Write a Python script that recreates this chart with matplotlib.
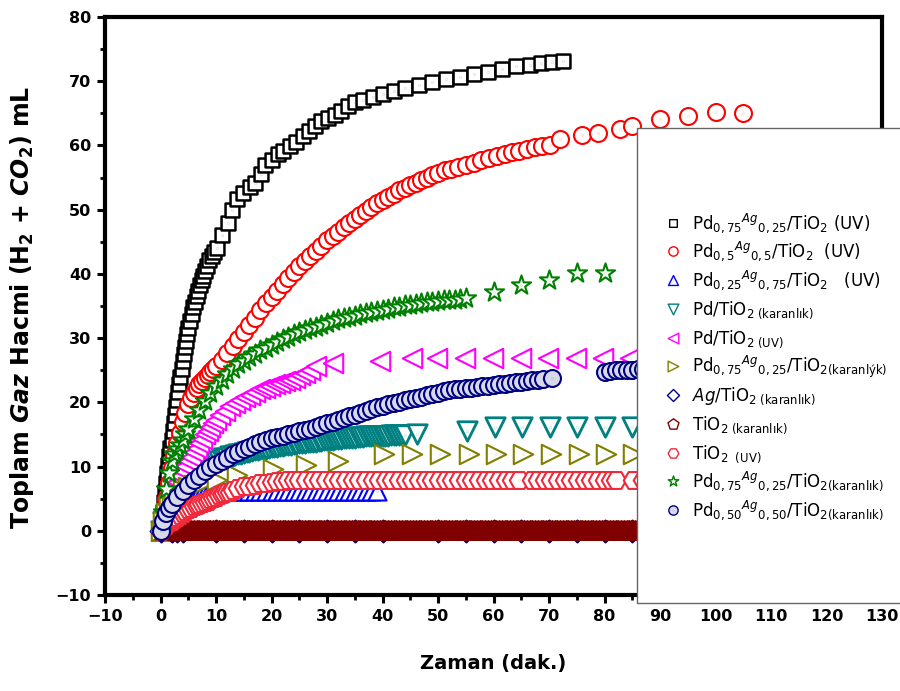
import matplotlib.pyplot as plt
from matplotlib.lines import Line2D
from matplotlib.markers import MarkerStyle
from matplotlib.patches import Rectangle
from matplotlib.path import Path
from matplotlib.ticker import MultipleLocator

plt.rcParams["mathtext.fontset"] = "dejavusans"

# --- data (time in min, volume in mL) ---
sq_x = [0, 0.2, 0.4, 0.6, 0.8, 1.0, 1.2, 1.4, 1.6, 1.8, 2.0, 2.2, 2.4, 2.6, 2.8, 3.0, 3.2, 3.4, 3.6, 3.8,
        4.0, 4.2, 4.4, 4.6, 4.8, 5.0, 5.3, 5.6, 5.9, 6.2, 6.5, 6.8, 7.1, 7.4, 7.7, 8.0, 8.4, 8.8, 9.2, 9.6,
        10.1, 11.0, 12.1, 12.8, 13.8, 14.9, 16.1, 17.0, 18.1, 18.8, 20.0, 21.2, 22.1, 23.3, 24.5, 25.7,
        26.8, 27.8, 29.0, 30.2, 31.4, 32.6, 33.8, 35.0, 36.5, 38.3, 40.0, 42.0, 44.0, 46.5, 49.0, 51.5,
        54.0, 56.5, 59.0, 61.5, 64.0, 66.5, 68.5, 70.5, 72.5]
sq_y = [0, 1.5, 3, 4.5, 6, 7.5, 9, 10.3, 11.6, 12.9, 14.2, 15.5, 16.8, 18.0, 19.2, 20.4, 21.6, 22.8, 24.0, 25.2,
        26.4, 27.5, 28.6, 29.6, 30.6, 31.5, 32.7, 33.8, 34.8, 35.7, 36.6, 37.4, 38.2, 39.0, 39.7, 40.4, 41.3, 42.1, 42.8, 43.4,
        44.0, 46.1, 48.0, 50.0, 51.6, 52.6, 53.6, 54.2, 55.5, 57.0, 57.8, 58.6, 59.1, 59.9, 60.6, 61.4,
        62.2, 63.0, 63.8, 64.3, 64.8, 65.3, 66.1, 66.7, 67.1, 67.6, 68.0, 68.4, 68.9, 69.4, 69.9, 70.3,
        70.7, 71.1, 71.5, 71.9, 72.3, 72.6, 72.9, 73.0, 73.1]

rc_x = [0, 0.5, 1, 1.5, 2, 2.5, 3, 3.5, 4, 4.5, 5, 5.5, 6, 6.5, 7, 7.5, 8, 8.5, 9, 9.5,
        10, 11, 12, 13, 14, 15, 16, 17, 18, 19, 20, 21, 22, 23, 24, 25, 26, 27, 28, 29,
        30, 31, 32, 33, 34, 35, 36, 37, 38, 39, 40, 41, 42, 43, 44, 45, 46, 47, 48, 49,
        50, 51.2, 52.4, 53.6, 55, 56.4, 57.8, 59.2, 60.6, 62, 63.3, 64.6, 66, 67.4, 68.8, 70.2,
        72, 75.9, 78.9, 82.8, 84.9, 90, 95, 100, 105]
rc_y = [0, 2.5, 5, 7.5, 9.8, 11.8, 13.6, 15.3, 16.9, 18.4, 19.7, 20.7, 21.5, 22.2, 22.8, 23.3, 23.8, 24.3, 24.8, 25.2,
        25.6, 26.6, 27.7, 28.8, 29.9, 31.0, 32.1, 33.2, 34.3, 35.4, 36.4, 37.4, 38.4, 39.4, 40.3, 41.2, 42.0, 42.8, 43.6, 44.4,
        45.2, 45.9, 46.6, 47.3, 48.0, 48.6, 49.2, 49.8, 50.4, 51.0, 51.5, 52.0, 52.5, 53.0, 53.4, 53.8, 54.2, 54.6, 55.0, 55.4,
        55.7, 56.1, 56.4, 56.7, 57.0, 57.3, 57.7, 58.1, 58.4, 58.7, 59.0, 59.2, 59.4, 59.7, 59.9, 60.1,
        61.0, 61.7, 62.0, 62.6, 63.1, 64.1, 64.6, 65.2, 65.1]

bt_x = [0, 0.5, 1, 1.5, 2, 2.5, 3, 3.5, 4, 4.5, 5, 5.5, 6, 6.5, 7, 7.5, 8, 8.5, 9, 9.5,
        10, 11, 12, 13, 14, 15, 16, 17, 18, 19, 20, 21, 22, 23, 24, 25, 26, 27, 28, 29,
        30, 31, 32, 33, 34, 35, 36, 37, 38, 39]
bt_y = [0, 0.9, 1.8, 2.6, 3.3, 3.9, 4.4, 4.8, 5.1, 5.4, 5.6, 5.8, 5.9, 6.0, 6.0, 6.1, 6.1, 6.1, 6.2, 6.2,
        6.2, 6.2, 6.2, 6.2, 6.2, 6.2, 6.2, 6.2, 6.2, 6.2, 6.2, 6.2, 6.2, 6.2, 6.2, 6.2, 6.2, 6.2, 6.2, 6.2,
        6.2, 6.2, 6.2, 6.2, 6.2, 6.2, 6.2, 6.2, 6.2, 6.2]

tl_x = [0, 0.5, 1, 1.5, 2, 2.5, 3, 3.5, 4, 4.5, 5, 5.5, 6, 6.5, 7, 7.5, 8, 8.5, 9, 9.5,
        10, 10.5, 11, 11.5, 12, 12.5, 13, 13.5, 14, 14.5, 15, 15.5, 16, 16.5, 17, 17.5, 18, 18.5, 19, 19.5,
        20, 20.5, 21, 21.5, 22, 22.5, 23, 23.5, 24, 24.5, 25, 25.5, 26, 26.5, 27, 27.5, 28, 28.5, 29, 29.5,
        30, 30.5, 31, 31.5, 32, 32.5, 33, 33.5, 34, 34.5, 35, 35.5, 36, 36.5, 37, 37.5, 38, 38.5, 39, 39.5,
        40, 40.5, 41, 41.5, 42, 42.5, 43, 43.5, 44,
        46.2, 55.3, 60.2, 65.1, 70.1, 75.0, 80.0, 84.9, 90, 95, 100, 105]
tl_y = [0, 1.3, 2.5, 3.5, 4.4, 5.2, 5.9, 6.5, 7.0, 7.5, 7.9, 8.3, 8.7, 9.0, 9.3, 9.6, 9.9, 10.1, 10.3, 10.5,
        10.7, 10.9, 11.1, 11.3, 11.4, 11.6, 11.7, 11.8, 11.9, 12.0, 12.1, 12.2, 12.3, 12.4, 12.5, 12.6, 12.7, 12.7, 12.8, 12.9,
        13.0, 13.0, 13.1, 13.2, 13.2, 13.3, 13.4, 13.4, 13.5, 13.5, 13.6, 13.7, 13.7, 13.8, 13.8, 13.9, 13.9, 14.0, 14.0, 14.1,
        14.1, 14.2, 14.2, 14.3, 14.3, 14.3, 14.4, 14.4, 14.5, 14.5, 14.5, 14.6, 14.6, 14.6, 14.7, 14.7, 14.7, 14.7, 14.8, 14.8,
        14.8, 14.8, 14.8, 14.9, 14.9, 14.9, 14.9, 14.9, 14.9,
        15.0, 15.6, 16.1, 16.1, 16.1, 16.1, 16.1, 16.1, 16.1, 16.1, 16.1, 16.1]

mg_x = [0, 0.5, 1, 1.5, 2, 2.5, 3, 3.5, 4, 4.5, 5, 5.5, 6, 6.5, 7, 7.5, 8, 8.5, 9, 9.5,
        10, 10.8, 11.6, 12.5, 13.4, 14.3, 15.2, 16.1, 17.0, 17.9, 18.8, 19.7, 20.6, 21.5, 22.4, 23.3, 24.2, 25.1, 26.0, 27.0,
        28.1, 31.1, 39.5, 45.3, 49.8, 54.9, 59.9, 64.9, 69.9, 74.8, 79.8, 84.6, 90, 95, 100, 105]
mg_y = [0, 1.5, 3.0, 4.3, 5.5, 6.6, 7.6, 8.5, 9.3, 10.1, 10.8, 11.5, 12.2, 12.9, 13.6, 14.3, 15.0, 15.6, 16.2, 16.8,
        17.3, 18.0, 18.7, 19.4, 19.9, 20.4, 20.8, 21.2, 21.6, 22.0, 22.3, 22.6, 22.8, 23.0, 23.3, 23.5, 23.8, 24.2, 24.6, 25.0,
        25.6, 26.1, 26.5, 26.9, 26.9, 26.9, 26.9, 26.9, 26.9, 26.9, 26.9, 26.9, 26.9, 26.9, 26.9, 26.9]

ol_x = [0, 0.5, 1, 1.5, 2, 2.5, 3, 4, 5, 6, 7, 8, 10.1, 13.7, 20.3, 26.2, 32.0,
        40.3, 45.3, 50.4, 55.5, 60.5, 65.4, 70.4, 75.4, 80.3, 85.1, 90, 95, 100, 105]
ol_y = [0, 1.5, 2.8, 3.8, 4.6, 5.2, 5.7, 6.3, 6.8, 7.1, 7.4, 7.6, 7.9, 8.7, 9.6, 10.2, 10.8,
        12.0, 12.0, 12.0, 12.0, 12.0, 12.0, 12.0, 12.0, 12.0, 12.0, 12.0, 12.0, 12.0, 12.0]

dm_x = [0, 2, 3, 4, 10, 15, 20, 25, 30, 35, 40, 50, 55, 60, 65, 70, 75, 80, 85, 90, 95, 100]
dm_y = [0, 0, 0, 0, 0, 0, 0, 0, 0, 0, 0, 0, 0, 0, 0, 0, 0, 0, 0, 0, 0, 0]

pt_x = [1.5, 2, 2.5, 3, 3.5, 4, 4.5, 5, 5.5, 6, 6.5, 7, 7.5, 8, 8.5, 9, 9.5, 10, 10.5, 11, 11.5, 12, 12.5, 13,
        13.5, 14, 14.5, 15, 15.5, 16, 16.5, 17, 17.5, 18, 18.5, 19, 19.5, 20, 20.5, 21, 21.5, 22, 22.5, 23,
        23.5, 24, 24.5, 25, 25.5, 26, 26.5, 27, 27.5, 28, 28.5, 29, 29.5, 30, 30.5, 31, 31.5, 32, 32.5, 33,
        33.5, 34, 34.5, 35, 35.5, 36, 36.5, 37, 37.5, 38, 38.5, 39, 39.5, 40, 40.5, 41, 41.5, 42, 42.5, 43,
        43.5, 44, 44.5, 45, 45.5, 46, 46.5, 47, 47.5, 48, 48.5, 49, 49.5, 50, 50.5, 51, 51.5, 52, 52.5, 53,
        53.5, 54, 54.5, 55, 55.5, 56, 56.5, 57, 57.5, 58, 58.5, 59, 59.5, 60, 60.5, 61, 61.5, 62, 62.5, 63,
        63.5, 64, 64.5, 65, 65.5, 66, 66.5, 67, 67.5, 68, 68.5, 69, 69.5, 70, 70.5, 71, 71.5, 72, 72.5, 73,
        73.5, 74, 74.5, 75, 75.5, 76, 76.5, 77, 77.5, 78, 78.5, 79, 79.5, 80, 80.5, 81, 81.5, 82, 82.5, 83,
        83.5, 84, 84.5, 85, 85.5, 86, 86.5, 87, 87.5, 88, 88.5, 89, 89.5, 90]
pt_y = [0, 0, 0, 0, 0, 0, 0, 0, 0, 0, 0, 0, 0, 0, 0, 0, 0, 0, 0, 0, 0, 0, 0, 0,
        0, 0, 0, 0, 0, 0, 0, 0, 0, 0, 0, 0, 0, 0, 0, 0, 0, 0, 0, 0,
        0, 0, 0, 0, 0, 0, 0, 0, 0, 0, 0, 0, 0, 0, 0, 0, 0, 0, 0, 0,
        0, 0, 0, 0, 0, 0, 0, 0, 0, 0, 0, 0, 0, 0, 0, 0, 0, 0, 0, 0,
        0, 0, 0, 0, 0, 0, 0, 0, 0, 0, 0, 0, 0, 0, 0, 0, 0, 0, 0, 0,
        0, 0, 0, 0, 0, 0, 0, 0, 0, 0, 0, 0, 0, 0, 0, 0, 0, 0, 0, 0,
        0, 0, 0, 0, 0, 0, 0, 0, 0, 0, 0, 0, 0, 0, 0, 0, 0, 0, 0, 0,
        0, 0, 0, 0, 0, 0, 0, 0, 0, 0, 0, 0, 0, 0, 0, 0, 0, 0, 0, 0,
        0, 0, 0, 0, 0, 0, 0, 0, 0, 0, 0, 0, 0, 0]

hx_x = [0, 0.5, 1, 1.5, 2, 2.5, 3, 3.5, 4, 4.5, 5, 5.5, 6, 6.5, 7, 7.5, 8, 8.5, 9, 9.5,
        10, 10.5, 11, 11.5, 12, 12.5, 13, 14, 15, 16, 17, 18, 19, 20, 21, 22, 23, 24, 25,
        26.2, 27.4, 28.6, 29.8, 31.0, 32.2, 33.4, 34.6, 35.8, 37.0, 38.2, 39.4, 40.6, 41.8, 43.0, 44.2,
        45.4, 46.6, 47.8, 49.0, 50.2, 51.4, 52.6, 53.8, 55.0, 56.2, 57.4, 58.6, 59.8, 61.0, 62.2, 63.4,
        64.6, 66.9, 68.0, 69.2, 70.4, 71.6, 72.8, 74.0, 75.2, 76.4, 77.6, 78.8, 80.0, 81.2, 82.0, 85.2, 87.0]
hx_y = [0, 0.5, 0.9, 1.3, 1.6, 1.9, 2.2, 2.5, 2.8, 3.1, 3.4, 3.6, 3.8, 4.0, 4.2, 4.4, 4.5, 4.7, 4.9, 5.1,
        5.3, 5.5, 5.7, 5.9, 6.0, 6.1, 6.3, 6.6, 6.9, 7.0, 7.2, 7.4, 7.5, 7.6, 7.7, 7.8, 7.9, 7.9, 7.9,
        7.9, 7.9, 7.9, 7.9, 7.9, 7.9, 7.9, 7.9, 7.9, 7.9, 7.9, 7.9, 7.9, 7.9, 7.9, 7.9,
        7.9, 7.9, 7.9, 7.9, 7.9, 7.9, 7.9, 7.9, 7.9, 7.9, 7.9, 7.9, 7.9, 7.9, 7.9, 7.9,
        7.9, 7.9, 7.9, 7.9, 7.9, 7.9, 7.9, 7.9, 7.9, 7.9, 7.9, 7.9, 7.9, 7.9, 7.9, 7.9, 7.9]

gs_x = [0, 0.5, 1, 1.5, 2, 2.5, 3, 3.5, 4, 4.5, 5,
        6, 7, 8, 9, 10, 11, 12, 13, 14, 15, 16, 17, 18, 19, 20, 21, 22, 23, 24, 25,
        26, 27, 28, 29, 30, 31, 32, 33, 34, 35, 36, 37, 38, 39, 40, 41, 42, 43, 44, 45,
        46, 47, 48, 49, 50, 51, 52, 53, 54, 55, 60, 65, 70, 75, 80]
gs_y = [0, 3.0, 6.5, 9.0, 10.8, 12.0, 12.8, 13.4, 14.2, 15.0, 15.8,
        17.4, 18.8, 20.2, 21.4, 22.5, 23.5, 24.4, 25.2, 25.9, 26.5, 27.1, 27.6, 28.1, 28.5, 29.0, 29.4, 29.8, 30.2, 30.6, 30.9,
        31.2, 31.5, 31.8, 32.1, 32.4, 32.6, 32.9, 33.1, 33.3, 33.5, 33.7, 33.9, 34.1, 34.2, 34.4, 34.6, 34.8, 34.9, 35.1, 35.2,
        35.3, 35.5, 35.6, 35.7, 35.8, 35.9, 36.0, 36.0, 36.1, 36.2, 37.2, 38.2, 39.1, 40.2, 40.2]

nc_x = [0, 0.5, 1, 1.5, 2,
        3, 4, 5, 6, 7, 8, 9, 10, 11, 12, 13, 14, 15, 16, 17, 18, 19, 20, 21, 22,
        23, 24, 25, 26, 27, 28, 29, 30, 31, 32, 33, 34, 35, 36, 37, 38, 39, 40, 41, 42,
        43, 44, 45, 46, 47, 48, 49, 50, 51, 52, 53, 54, 55, 56, 57, 58, 59, 60, 61, 62,
        63, 64, 65, 66, 67, 68, 69, 70.5,
        80, 81, 82, 83, 84, 85, 86, 87, 88]
nc_y = [0, 1.5, 2.8, 3.6, 4.2,
        5.2, 6.2, 7.1, 7.9, 8.6, 9.3, 9.9, 10.4, 10.9, 11.4, 11.9, 12.3, 12.7, 13.1, 13.5, 13.8, 14.1, 14.4, 14.6, 14.8,
        15.0, 15.3, 15.5, 15.7, 15.9, 16.2, 16.5, 16.8, 17.0, 17.3, 17.6, 17.8, 18.1, 18.4, 18.7, 19.0, 19.3, 19.5, 19.7, 19.9,
        20.1, 20.3, 20.5, 20.7, 20.9, 21.1, 21.3, 21.5, 21.7, 21.9, 22.0, 22.1, 22.2, 22.3, 22.4, 22.5, 22.6, 22.7, 22.8, 22.9,
        23.0, 23.1, 23.2, 23.3, 23.4, 23.5, 23.6, 23.8,
        24.8, 24.9, 25.0, 25.0, 25.1, 25.1, 25.2, 25.2, 25.3]

labels = [
    r"$\mathrm{Pd}_{0,75}{}^{Ag}{}_{0,25}/\mathrm{TiO}_{2}$ (UV)",
    r"$\mathrm{Pd}_{0,5}{}^{Ag}{}_{0,5}/\mathrm{TiO}_{2}$  (UV)",
    r"$\mathrm{Pd}_{0,25}{}^{Ag}{}_{0,75}/\mathrm{TiO}_{2}$   (UV)",
    r"Pd/TiO$_{2\ \mathrm{(karanlık)}}$",
    r"Pd/TiO$_{2\ \mathrm{(UV)}}$",
    r"$\mathrm{Pd}_{0,75}{}^{Ag}{}_{0,25}/\mathrm{TiO}_{2\mathrm{(karanlýk)}}$",
    r"$Ag/\mathrm{TiO}_{2\ \mathrm{(karanlık)}}$",
    r"TiO$_{2\ \mathrm{(karanlık)}}$",
    r"TiO$_{2\ \ \mathrm{(UV)}}$",
    r"$\mathrm{Pd}_{0,75}{}^{Ag}{}_{0,25}/\mathrm{TiO}_{2\mathrm{(karanlık)}}$",
    r"$\mathrm{Pd}_{0,50}{}^{Ag}{}_{0,50}/\mathrm{TiO}_{2\mathrm{(karanlık)}}$",
]


def dotted(m):
    # Origin-style symbol: outline plus a tiny dot at the data point
    ms = MarkerStyle(m)
    outline = ms.get_path().transformed(ms.get_transform())
    return Path.make_compound_path(outline, Path.circle((0, 0), 0.003))


# x, y, marker, edge colour, face colour, size (pt), edge width
series = [
    (sq_x, sq_y, "s", "black", "white", 10, 1.8),
    (rc_x, rc_y, "o", "#ff0000", "white", 12.2, 1.5),
    (bt_x, bt_y, "^", "#0000ff", "white", 13, 1.5),
    (tl_x, tl_y, "v", "#008080", "white", 14, 2.0),
    (mg_x, mg_y, "<", "#ff00ff", "white", 14, 1.5),
    (ol_x, ol_y, ">", "#808000", "white", 14, 1.5),
    (dm_x, dm_y, "D", "#000080", "white", 15.8, 1.5),
    (pt_x, pt_y, "p", "#800000", "#800000", 15, 1.5),
    (hx_x, hx_y, "H", "#f0283a", "white", 14, 1.5),
    (gs_x, gs_y, "*", "#008000", "white", 14.5, 1.5),
    (nc_x, nc_y, "o", "#000080", "#d6dae8", 12.2, 1.5),
]

fig = plt.figure(figsize=(9, 6.91), dpi=100)
ax = fig.add_axes([105 / 900, 1 - 595 / 691, 777 / 900, 578 / 691])

for x, y, m, ec, fc, size, lw in series:
    ax.plot(x, y, ls="none", marker=dotted(m), ms=size, mec=ec, mfc=fc, mew=lw)

ax.set_xlim(-10, 130)
ax.set_ylim(-10, 80)
ax.xaxis.set_major_locator(MultipleLocator(10))
ax.xaxis.set_minor_locator(MultipleLocator(5))
ax.yaxis.set_major_locator(MultipleLocator(10))
ax.yaxis.set_minor_locator(MultipleLocator(5))
for s in ax.spines.values():
    s.set_linewidth(3)
ax.tick_params(which="major", direction="out", length=6, width=2.2, labelsize=11.5, pad=4,
               top=False, right=False)
ax.tick_params(which="minor", direction="out", length=3.5, width=2, top=False, right=False)
for lab in ax.get_xticklabels() + ax.get_yticklabels():
    lab.set_fontweight("bold")

fig.text(22 / 900, 1 - 307 / 691,
         r"Toplam $\mathbfit{Gaz}$ Hacmi ($\mathbf{H}_\mathbf{2}$ + $\mathbfit{CO}_\mathbf{2}$) mL",
         rotation=90, ha="center", va="center", fontsize=17, fontweight="bold")
fig.text(493 / 900, 1 - 663 / 691, "Zaman (dak.)", ha="center", va="center",
         fontsize=14, fontweight="bold")

# legend panel sits over the plot, running off the right edge of the image
fig.add_artist(Rectangle((637 / 900, 1 - 603 / 691), 0.3, 475 / 691, transform=fig.transFigure,
                         facecolor="white", edgecolor="#666666", lw=1, zorder=3))
for i, (s, lab) in enumerate(zip(series, labels)):
    ypx = 222.7 + i * 28.75
    _, _, m, ec, fc, size, lw = s
    fc_leg = "white" if m == "p" else fc
    fig.add_artist(Line2D([673 / 900], [1 - ypx / 691], transform=fig.transFigure, ls="none",
                          marker=dotted(m), ms=size * 0.55, mec=ec, mfc=fc_leg, mew=1, zorder=4))
    fig.text(692 / 900, 1 - (ypx + 6) / 691, lab, ha="left", va="baseline", fontsize=12, zorder=4)

fig.savefig("out.png", dpi=100)
